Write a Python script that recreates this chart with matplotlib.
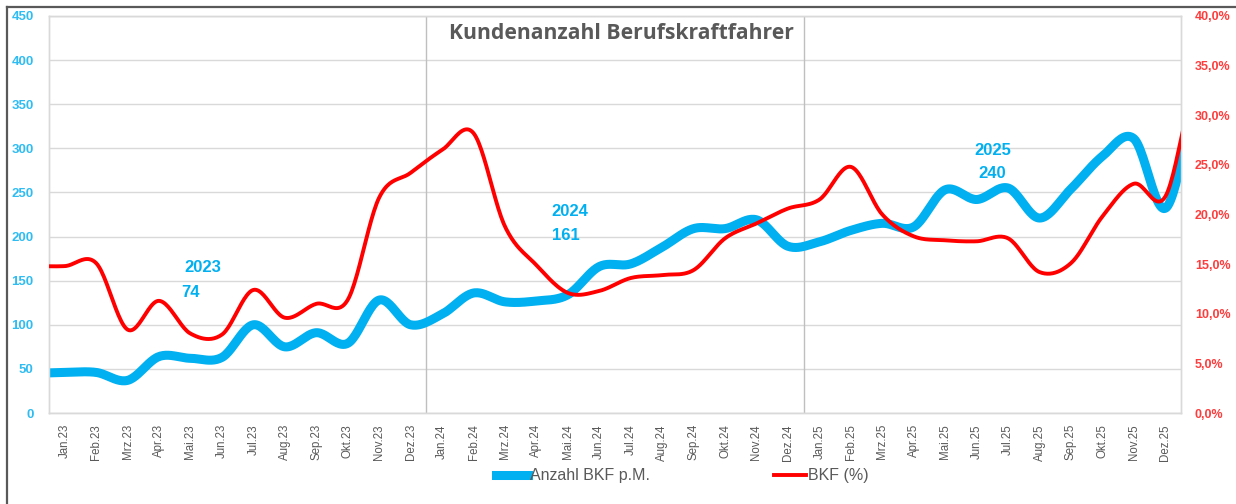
"""Kundenanzahl Berufskraftfahrer: monthly BKF customers (left axis) vs. BKF share (right axis)."""

import matplotlib

matplotlib.use("Agg")

import matplotlib.pyplot as plt  # noqa: E402
import numpy as np  # noqa: E402
from matplotlib.lines import Line2D  # noqa: E402
from matplotlib.ticker import FuncFormatter, MultipleLocator  # noqa: E402

# --- data --------------------------------------------------------------------
MONTHS = ["Jan", "Feb", "Mrz", "Apr", "Mai", "Jun", "Jul", "Aug", "Sep", "Okt", "Nov", "Dez"]
YEARS = ["23", "24", "25"]
LABELS = [f"{m}.{y}" for y in YEARS for m in MONTHS]

# Anzahl BKF p.M. (left axis)
ANZAHL = [46, 46, 37, 64, 62, 63, 100, 75, 91, 79, 128, 100,
          112, 136, 126, 127, 134, 166, 169, 188, 209, 209, 219, 189,
          194, 207, 215, 211, 253, 242, 255, 221, 254, 291, 311, 232]
# values just outside the visible range (the curves run into the plot edges)
ANZAHL_PREV, ANZAHL_NEXT = 45, 345

# BKF (%) (right axis)
BKF_PCT = [14.8, 15.1, 8.4, 11.3, 8.0, 7.9, 12.4, 9.6, 11.0, 11.4, 21.7, 24.2,
           26.5, 28.2, 18.8, 14.9, 12.1, 12.3, 13.6, 13.9, 14.4, 17.6, 19.1, 20.6,
           21.5, 24.8, 20.0, 17.8, 17.4, 17.3, 17.6, 14.2, 15.1, 19.8, 23.1, 21.8]
BKF_PREV, BKF_NEXT = 14.8, 33.5

YEAR_LABELS = ["2023", "2024", "2025"]
YEAR_TOTALS = ["74", "161", "240"]

BLUE = "#00B0F0"
RED = "#FF0000"
GREY = "#595959"


def smooth(y, steps=24):
    """Excel-like smoothed line: cubic Bezier through every point."""
    y = np.asarray(y, dtype=float)
    x = np.arange(len(y), dtype=float)
    xs, ys = [], []
    t = np.linspace(0, 1, steps, endpoint=False)
    for i in range(len(y) - 1):
        y0 = y[max(i - 1, 0)]
        y3 = y[min(i + 2, len(y) - 1)]
        c1 = y[i] + (y[i + 1] - y0) / 6
        c2 = y[i + 1] - (y3 - y[i]) / 6
        b = ((1 - t) ** 3 * y[i] + 3 * (1 - t) ** 2 * t * c1
             + 3 * (1 - t) * t ** 2 * c2 + t ** 3 * y[i + 1])
        xs.append(x[i] + t)
        ys.append(b)
    xs.append([x[-1]])
    ys.append([y[-1]])
    return np.concatenate(xs), np.concatenate(ys)


def main():
    plt.rcParams["font.family"] = ["Liberation Sans", "DejaVu Sans"]

    fig = plt.figure(figsize=(12.36, 5.04), dpi=100)
    ax = fig.add_axes([49 / 1236, 1 - 413 / 504, 1132 / 1236, 397 / 504])
    ax2 = ax.twinx()

    # series with one hidden point on each side, positioned at index -1 .. 36
    xb, yb = smooth([ANZAHL_PREV] + ANZAHL + [ANZAHL_NEXT])
    xr, yr = smooth([BKF_PREV] + BKF_PCT + [BKF_NEXT])
    ax.plot(xb - 1, yb, color=BLUE, lw=6.5, solid_capstyle="round", zorder=3)
    ax2.plot(xr - 1, yr, color=RED, lw=2.8, solid_capstyle="round", zorder=3)

    ax.set_xlim(-0.5, len(LABELS) - 0.5)
    ax.set_ylim(0, 450)
    ax2.set_ylim(0, 40)

    ax.yaxis.set_major_locator(MultipleLocator(50))
    ax2.yaxis.set_major_locator(MultipleLocator(5))
    ax2.yaxis.set_major_formatter(FuncFormatter(lambda v, _: f"{v:.1f}%".replace(".", ",")))

    ax.set_xticks(range(len(LABELS)))
    ax.set_xticklabels(LABELS, rotation=90, fontsize=8.3, color=GREY)
    ax.tick_params(axis="x", length=0, pad=8)
    ax.tick_params(axis="y", length=0, pad=11, labelsize=9.5, labelcolor="#2FBCF2")
    ax2.tick_params(axis="y", length=0, pad=10, labelsize=9, labelcolor="#FF3C3C")
    for lab in ax.get_yticklabels() + ax2.get_yticklabels():
        lab.set_fontweight("bold")

    ax.grid(axis="y", color="#D9D9D9", lw=1)
    ax.set_axisbelow(True)
    for a in (ax, ax2):
        for sp in a.spines.values():
            sp.set_color("#D9D9D9")
            sp.set_linewidth(1)

    # year separators
    for xv in (11.5, 23.5):
        ax.axvline(xv, color="#BFBFBF", lw=1, zorder=1)

    # year annotations
    year_pos = [(4.40, 165), (16.05, 228), (29.53, 298)]
    total_pos = [(4.00, 137), (15.95, 201), (29.50, 271)]
    for (x, y), txt in zip(year_pos, YEAR_LABELS):
        ax.text(x, y, txt, ha="center", va="center", fontsize=12,
                fontweight="bold", color=BLUE, zorder=4)
    for (x, y), txt in zip(total_pos, YEAR_TOTALS):
        ax.text(x, y, txt, ha="center", va="center", fontsize=12,
                fontweight="bold", color=BLUE, zorder=4)

    fig.text(0.503, 0.934, "Kundenanzahl Berufskraftfahrer", ha="center", va="center",
             fontsize=15.2, fontweight="bold", color=GREY, family=["Open Sans", "DejaVu Sans"])

    handles = [Line2D([], [], color=BLUE, lw=6.5), Line2D([], [], color=RED, lw=2.8)]
    fig.legend(handles, ["Anzahl BKF p.M.", "BKF (%)"], loc="center",
               bbox_to_anchor=(0.552, 0.056), ncol=2, frameon=False, fontsize=11.5,
               labelcolor=GREY, handlelength=2.0, handletextpad=0.1, columnspacing=7.8)

    # outer chart frame (left and top edges visible in the crop)
    fy = 1 - 7 / 504
    fx = 7 / 1236
    fig.add_artist(Line2D([fx, fx], [0, fy], transform=fig.transFigure, color=GREY, lw=1.6))
    fig.add_artist(Line2D([fx, 1], [fy, fy], transform=fig.transFigure, color=GREY, lw=1.6))

    fig.savefig("out.png", dpi=100)


if __name__ == "__main__":
    main()
